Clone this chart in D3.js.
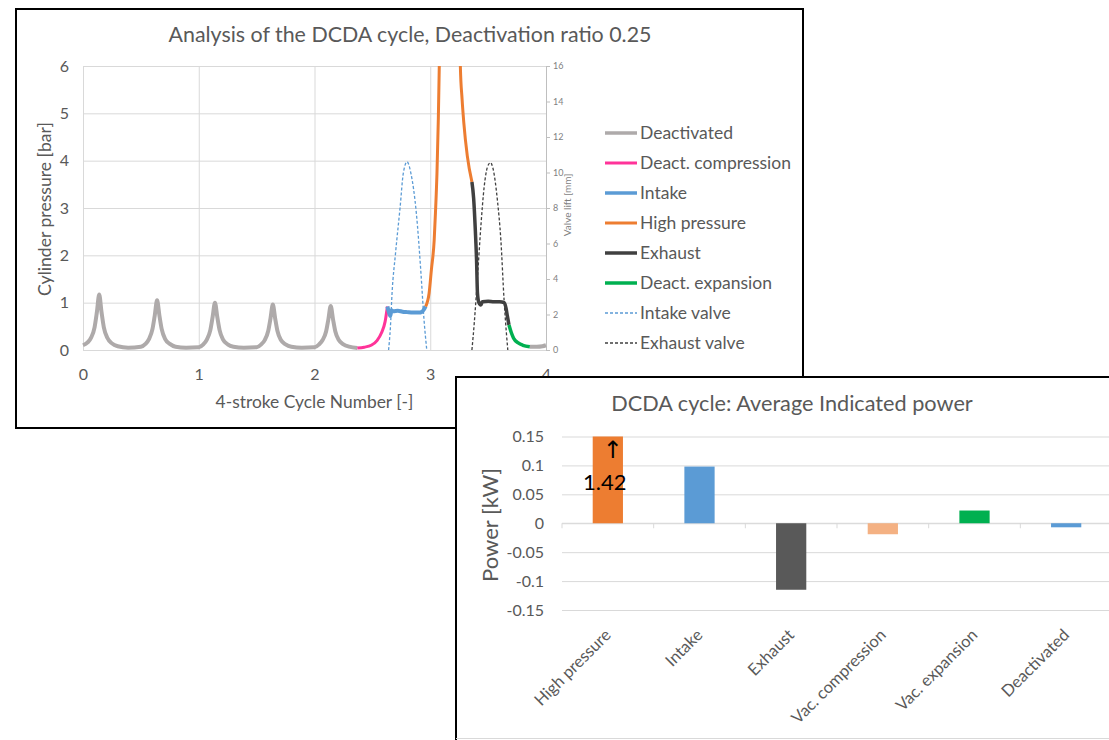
<!DOCTYPE html>
<html>
<head>
<meta charset="utf-8">
<script src="https://cdn.jsdelivr.net/npm/d3@7"></script>
<style>
body{margin:0;background:#fff;}
svg{display:block;font-family:Lato,"Open Sans",sans-serif;}
</style>
</head>
<body>
<svg id="chart" width="1109" height="740"></svg>
<script>
// ---- data: top chart (cycle number, pressure in bar / lift in mm) ----
var deactivatedA=[[0,0.1],[0.04,0.16],[0.07,0.26],[0.1,0.48],[0.12,0.8],[0.14,1.17],[0.16,0.8],[0.18,0.48],[0.21,0.26],[0.25,0.14],[0.3,0.08],[0.39,0.05],
    [0.5,0.07],[0.54,0.13],[0.57,0.23],[0.6,0.44],[0.62,0.73],[0.64,1.05],[0.66,0.73],[0.68,0.44],[0.71,0.23],[0.75,0.13],[0.8,0.07],[0.89,0.05],
    [1.0,0.06],[1.04,0.12],[1.07,0.22],[1.1,0.42],[1.12,0.7],[1.14,1.0],[1.16,0.7],[1.18,0.42],[1.21,0.22],[1.25,0.12],[1.3,0.07],[1.39,0.05],
    [1.5,0.06],[1.54,0.12],[1.57,0.21],[1.6,0.4],[1.62,0.67],[1.64,0.96],[1.66,0.67],[1.68,0.4],[1.71,0.21],[1.75,0.12],[1.8,0.07],[1.89,0.05],
    [2.0,0.06],[2.04,0.12],[2.07,0.21],[2.1,0.39],[2.12,0.65],[2.14,0.93],[2.16,0.65],[2.18,0.39],[2.21,0.21],[2.25,0.12],[2.3,0.07],[2.37,0.04]];
var deactCompression=[[2.37,0.04],[2.43,0.06],[2.49,0.1],[2.54,0.2],[2.58,0.37],[2.61,0.6],[2.63,0.92]];
var intake=[[2.63,0.92],[2.645,0.78],[2.655,0.72],[2.665,0.84],[2.68,0.82],[2.72,0.83],[2.76,0.81],[2.8,0.8],[2.85,0.79],[2.9,0.79],[2.93,0.81],[2.96,0.92]];
var highPressure=[[2.96,0.92],[2.99,1.2],[3.01,1.7],[3.034,2.32],[3.045,2.9],[3.058,3.73],[3.07,4.9],[3.078,6.0],[3.1,10],[3.14,16],[3.2,16],[3.24,10],[3.26,6.0],[3.275,5.3],[3.29,4.8],[3.32,4.1],[3.36,3.55]];
var exhaust=[[3.36,3.55],[3.375,3.2],[3.39,2.5],[3.4,1.9],[3.408,1.2],[3.42,1.0],[3.437,0.95],[3.45,1.02],[3.5,1.03],[3.55,1.02],[3.6,1.02],[3.638,1.0],[3.655,0.88],[3.666,0.72],[3.68,0.53]];
var deactExpansion=[[3.68,0.53],[3.7,0.37],[3.72,0.25],[3.76,0.15],[3.8,0.1],[3.86,0.07]];
var deactivatedB=[[3.86,0.07],[3.92,0.07],[3.97,0.08],[4.0,0.1]];
var intakeValve=[[2.64,0],[2.655,1.2],[2.67,3.2],[2.7,5.45],[2.74,8.07],[2.767,9.95],[2.8,10.6],[2.833,9.95],[2.88,7.7],[2.92,4.3],[2.945,1.8],[2.97,0]];
var exhaustValve=[[3.36,0],[3.38,1.5],[3.41,4.3],[3.437,6.95],[3.466,9.2],[3.494,10.3],[3.52,10.55],[3.543,10.2],[3.58,8.45],[3.61,6.2],[3.638,2.8],[3.658,0.94],[3.67,0]];
var cycleTicks=[0,1,2,3,4];
var pressureTicks=[0,1,2,3,4,5,6];
var liftTicks=[0,2,4,6,8,10,12,14,16];
var legendNames=["Deactivated","Deact. compression","Intake","High pressure","Exhaust","Deact. expansion","Intake valve","Exhaust valve"];

// ---- data: bottom chart ----
var powerCategories=["High pressure","Intake","Exhaust","Vac. compression","Vac. expansion","Deactivated"];
var powerValues=[1.42,0.098,-0.115,-0.019,0.022,-0.007];
var powerTicks=[-0.15,-0.1,-0.05,0,0.05,0.1,0.15];

// ---- styles ----
var textGrey='#595959',gridGrey='#D9D9D9';
var seriesStyles=[
    {color:'#AEAAAA',width:4,dash:null},
    {color:'#FF3399',width:3,dash:null},
    {color:'#5B9BD5',width:4,dash:null},
    {color:'#ED7D31',width:3,dash:null},
    {color:'#404040',width:3.5,dash:null},
    {color:'#00B050',width:3.5,dash:null},
    {color:'#5B9BD5',width:1.3,dash:'3,2'},
    {color:'#404040',width:1.3,dash:'3,2'}
];
var barColors=['#ED7D31','#5B9BD5','#595959','#F4B183','#00B050','#5B9BD5'];

var svg=d3.select('#chart');

//1. top chart frame
svg.append('rect')
    .attr('x',16).attr('y',9).attr('width',787).attr('height',419)
    .attr('fill','#fff').attr('stroke','#000').attr('stroke-width',2);

//2. scales
var plotL=83,plotR=546,plotT=66,plotB=350;
var xScale=d3.scaleLinear().domain([0,4]).range([plotL,plotR]);
var yScale=d3.scaleLinear().domain([0,6]).range([plotB,plotT]);
var liftScale=d3.scaleLinear().domain([0,16]).range([plotB,plotT]);

//3. axes with gridlines
var gy=svg.append('g').attr('transform','translate('+plotL+',0)')
    .call(d3.axisLeft(yScale).tickValues(pressureTicks).tickSize(-(plotR-plotL)).tickPadding(14).tickFormat(d3.format('d')));
var gx=svg.append('g').attr('transform','translate(0,'+plotB+')')
    .call(d3.axisBottom(xScale).tickValues(cycleTicks).tickSize(-(plotB-plotT)).tickPadding(19).tickFormat(d3.format('d')));
[gy,gx].forEach(function(g){
    g.select('.domain').remove();
    g.selectAll('line').attr('stroke',gridGrey);
    g.selectAll('text').attr('fill',textGrey).attr('font-size','16px').attr('font-family','Lato');
});
var gr=svg.append('g').attr('transform','translate('+plotR+',0)')
    .call(d3.axisRight(liftScale).tickValues(liftTicks).tickSize(4).tickSizeOuter(0).tickPadding(3));
gr.select('.domain').attr('stroke','#BFBFBF');
gr.selectAll('line').attr('stroke','#BFBFBF');
gr.selectAll('text').attr('fill','#7F7F7F').attr('font-size','9px').attr('font-family','Lato');

//4. titles
svg.append('text').attr('x',410).attr('y',42).attr('text-anchor','middle')
    .attr('font-size','21.4px').attr('fill',textGrey)
    .text('Analysis of the DCDA cycle, Deactivation ratio 0.25');
svg.append('text').attr('text-anchor','middle').attr('dy','0.35em')
    .attr('transform','translate(45,209) rotate(-90)')
    .attr('font-size','17.6px').attr('fill',textGrey)
    .text('Cylinder pressure [bar]');
svg.append('text').attr('x',(plotL+plotR)/2).attr('y',402).attr('dy','0.35em').attr('text-anchor','middle')
    .attr('font-size','17.4px').attr('fill',textGrey)
    .text('4-stroke Cycle Number [-]');
svg.append('text').attr('text-anchor','middle').attr('dy','0.35em')
    .attr('transform','translate(567,205) rotate(-90)')
    .attr('font-size','10px').attr('fill','#7F7F7F')
    .text('Valve lift [mm]');

//5. lines, clipped to plot area
svg.append('defs').append('clipPath').attr('id','plotClip')
    .append('rect').attr('x',plotL-4).attr('y',plotT).attr('width',plotR-plotL+8).attr('height',plotB-plotT+8);
var pLine=d3.line().x(function(d){return xScale(d[0]);}).y(function(d){return yScale(d[1]);}).curve(d3.curveMonotoneX);
var lLine=d3.line().x(function(d){return xScale(d[0]);}).y(function(d){return liftScale(d[1]);}).curve(d3.curveMonotoneX);
var gLines=svg.append('g').attr('clip-path','url(#plotClip)');
var seriesList=[
    {data:deactivatedA,s:0,gen:pLine},{data:deactivatedB,s:0,gen:pLine},
    {data:deactCompression,s:1,gen:pLine},{data:intake,s:2,gen:pLine},
    {data:highPressure,s:3,gen:pLine},{data:exhaust,s:4,gen:pLine},
    {data:deactExpansion,s:5,gen:pLine},
    {data:intakeValve,s:6,gen:lLine},{data:exhaustValve,s:7,gen:lLine}
];
seriesList.forEach(function(sr){
    var st=seriesStyles[sr.s];
    gLines.append('path')
        .attr('d',sr.gen(sr.data))
        .attr('fill','none')
        .attr('stroke',st.color)
        .attr('stroke-width',st.width)
        .attr('stroke-dasharray',st.dash)
        .attr('stroke-linejoin','round');
});

//6. legend
var gLeg=svg.append('g');
legendNames.forEach(function(name,i){
    var st=seriesStyles[i],ly=133+30*i;
    gLeg.append('line').attr('x1',605).attr('x2',637).attr('y1',ly).attr('y2',ly)
        .attr('stroke',st.color).attr('stroke-width',Math.min(st.width,3.5)).attr('stroke-dasharray',st.dash);
    gLeg.append('text').attr('x',640).attr('y',ly).attr('dy','0.35em')
        .attr('font-size','17.5px').attr('fill',textGrey).text(name);
});

//7. bottom chart frame (drawn over the top one)
svg.append('rect').attr('x',456).attr('y',377).attr('width',660).attr('height',361).attr('fill','#fff');
svg.append('line').attr('x1',456).attr('x2',1109).attr('y1',377).attr('y2',377).attr('stroke','#000').attr('stroke-width',2);
svg.append('line').attr('x1',456).attr('x2',456).attr('y1',376).attr('y2',740).attr('stroke','#000').attr('stroke-width',2);
svg.append('line').attr('x1',456).attr('x2',1109).attr('y1',738.5).attr('y2',738.5).attr('stroke',gridGrey).attr('stroke-width',1);

//8. bottom scales
var bL=562,bR=1112;
var xBand=d3.scaleBand().domain(powerCategories).range([bL,bR]).paddingInner(0.67).paddingOuter(0.335);
var yPower=d3.scaleLinear().domain([-0.15,0.15]).range([610,436.5]).clamp(true);

//9. gridlines + y labels (plain hyphen minus like the source)
var gpy=svg.append('g').attr('transform','translate('+bL+',0)')
    .call(d3.axisLeft(yPower).tickValues(powerTicks).tickSize(-(bR-bL)).tickPadding(18).tickFormat(function(d){return String(+d.toFixed(2));}));
gpy.select('.domain').remove();
gpy.selectAll('line').attr('stroke',gridGrey);
gpy.selectAll('text').attr('fill',textGrey).attr('font-size','16px').attr('font-family','Lato');

//10. zero axis with ticks at band boundaries
var zeroY=yPower(0);
var gap=(xBand.step()-xBand.bandwidth())/2;
svg.append('line').attr('x1',bL).attr('x2',bR).attr('y1',zeroY).attr('y2',zeroY).attr('stroke',gridGrey);
svg.append('g').selectAll('line').data(powerCategories).enter().append('line')
    .attr('x1',function(d){return xBand(d)-gap;}).attr('x2',function(d){return xBand(d)-gap;})
    .attr('y1',zeroY).attr('y2',zeroY+5).attr('stroke',gridGrey);

//11. bars
svg.append('g').selectAll('rect').data(powerValues).enter().append('rect')
    .attr('x',function(d,i){return xBand(powerCategories[i]);})
    .attr('width',xBand.bandwidth())
    .attr('y',function(d){return Math.min(yPower(d),zeroY);})
    .attr('height',function(d){return Math.abs(yPower(d)-zeroY);})
    .attr('fill',function(d,i){return barColors[i];});

//12. off-scale annotation on High pressure bar
var hpX=xBand(powerCategories[0])+xBand.bandwidth()/2;
svg.append('text').attr('x',hpX+5).attr('y',yPower(0.15)+13).attr('dy','0.35em').attr('text-anchor','middle')
    .attr('font-size','24px').attr('fill','#000').attr('font-family','DejaVu Sans').text('\u2191');
svg.append('text').attr('x',hpX-3).attr('y',yPower(0.15)+46).attr('dy','0.35em').attr('text-anchor','middle')
    .attr('font-size','22px').attr('fill','#000').text(d3.format('.2f')(powerValues[0]));

//13. category labels
svg.append('g').selectAll('text').data(powerCategories).enter().append('text')
    .attr('text-anchor','end').attr('dy','0.35em')
    .attr('transform',function(d){return 'translate('+(xBand(d)+xBand.bandwidth()/2)+',632) rotate(-45)';})
    .attr('font-size','16.5px').attr('fill',textGrey).text(function(d){return d;});

//14. bottom title and y label
svg.append('text').attr('x',792).attr('y',411).attr('text-anchor','middle')
    .attr('font-size','21.7px').attr('fill',textGrey).text('DCDA cycle: Average Indicated power');
svg.append('text').attr('text-anchor','middle').attr('dy','0.35em')
    .attr('transform','translate(490,525) rotate(-90)')
    .attr('font-size','22px').attr('fill',textGrey).text('Power [kW]');
</script>
</body>
</html>
